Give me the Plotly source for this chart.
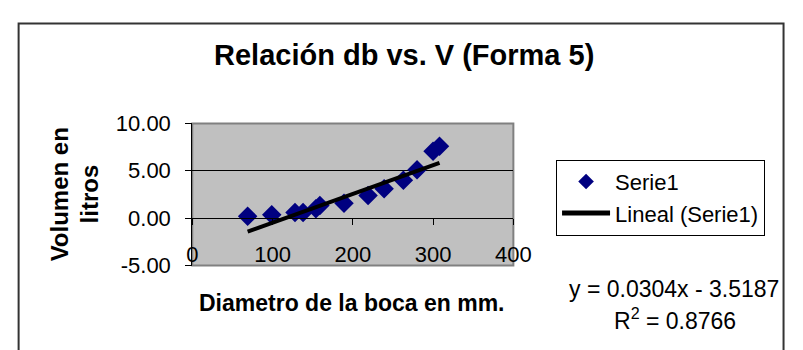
import plotly.graph_objects as go

# Diámetro de la boca (mm) y volumen (litros), forma 5
diametro_mm = [69, 99, 128, 138, 154, 159, 189, 219, 239, 263, 280, 300, 308]
volumen_l = [0.20, 0.36, 0.59, 0.59, 1.00, 1.34, 1.57, 2.40, 3.10, 4.00, 5.10, 7.06, 7.60]

# Línea de tendencia lineal (valores de la ecuación mostrada)
pendiente = 0.0304
intercepto = -3.5187
r_cuadrado = 0.8766

x_ticks = [0, 100, 200, 300, 400]
y_ticks = [-5, 0, 5, 10]
y_ticktext = ["-5.00", "0.00", "5.00", "10.00"]

W, H = 803, 350
FONT = "Liberation Sans, Arial, sans-serif"

def px_x(v):
    return v / W

def px_y(v):
    return 1 - v / H

x_tend = [min(diametro_mm), max(diametro_mm)]
y_tend = [pendiente * v + intercepto for v in x_tend]

fig = go.Figure()
fig.add_trace(go.Scatter(
    x=diametro_mm, y=volumen_l, mode="markers", name="Serie1",
    marker=dict(symbol="diamond", size=15, color="#000080",
                line=dict(width=0)),
))
fig.add_trace(go.Scatter(
    x=x_tend, y=y_tend, mode="lines", name="Lineal (Serie1)",
    line=dict(color="black", width=4),
))

plot_l, plot_r, plot_t, plot_b = 192, 523, 120, 273
# y = 0 en píxeles, donde cruza el eje x
y0_px = plot_t + (10 - 0) / 15 * (plot_b - plot_t)

fig.update_layout(
    width=W, height=H,
    margin=dict(l=0, r=0, t=0, b=0),
    paper_bgcolor="white",
    plot_bgcolor="#C0C0C0",
    font=dict(family=FONT, size=22, color="black"),
    showlegend=True,
    xaxis=dict(
        domain=[px_x(plot_l), px_x(plot_r)],
        range=[0, 400], tickvals=x_ticks, ticktext=[str(v) for v in x_ticks],
        anchor="free", position=px_y(y0_px),
        showline=True, linecolor="black", linewidth=1,
        ticks="outside", ticklen=6, tickcolor="black",
        showgrid=False, zeroline=False,
        ticklabelstandoff=10,
        tickfont=dict(size=22),
    ),
    yaxis=dict(
        domain=[px_y(plot_b), px_y(plot_t)],
        range=[-5, 10], tickvals=y_ticks, ticktext=y_ticktext,
        showline=True, linecolor="black", linewidth=1,
        ticks="outside", ticklen=6, tickcolor="black",
        showgrid=True, gridcolor="black", gridwidth=1,
        zeroline=False,
        ticklabelstandoff=10,
        tickfont=dict(size=22),
    ),
    legend=dict(
        x=px_x(567), y=px_y(159), xanchor="left", yanchor="top",
        bgcolor="white", bordercolor="black", borderwidth=1,
        font=dict(size=22), itemsizing="constant", itemwidth=48,
        tracegroupgap=0,
    ),
    shapes=[
        # borde del área de trazado
        dict(type="rect", xref="paper", yref="paper",
             x0=px_x(plot_l), x1=px_x(plot_r), y0=px_y(plot_b), y1=px_y(plot_t),
             line=dict(color="#808080", width=2), layer="below"),
        # borde exterior del gráfico
        dict(type="rect", xref="paper", yref="paper",
             x0=px_x(13), x1=px_x(801.5), y0=-0.05, y1=px_y(12.5),
             line=dict(color="#333333", width=2)),
    ],
    annotations=[
        dict(text="<b>Relación db vs. V (Forma 5)</b>", xref="paper", yref="paper",
             x=px_x(410), y=px_y(46), xanchor="center", yanchor="middle",
             showarrow=False, font=dict(size=29)),
        dict(text="<b>Diametro de la boca en mm.</b>", xref="paper", yref="paper",
             x=px_x(356), y=px_y(313), xanchor="center", yanchor="middle",
             showarrow=False, font=dict(size=23)),
        dict(text="<b>Volumen en</b>", xref="paper", yref="paper",
             x=px_x(55), y=px_y(196), xanchor="center", yanchor="middle",
             textangle=-90, showarrow=False, font=dict(size=24)),
        dict(text="<b>litros</b>", xref="paper", yref="paper",
             x=px_x(86), y=px_y(196), xanchor="center", yanchor="middle",
             textangle=-90, showarrow=False, font=dict(size=24)),
        dict(text=f"y = {pendiente:.4f}x - {abs(intercepto):.4f}",
             xref="paper", yref="paper",
             x=px_x(689), y=px_y(298), xanchor="center", yanchor="middle",
             showarrow=False, font=dict(size=23)),
        dict(text=f"R<sup>2</sup> = {r_cuadrado:.4f}",
             xref="paper", yref="paper",
             x=px_x(690), y=px_y(331), xanchor="center", yanchor="middle",
             showarrow=False, font=dict(size=23)),
    ],
)

# página sin márgenes ni barras de desplazamiento
fig.write_html(
    "out.html",
    post_script="document.body.style.margin='0';document.body.style.overflow='hidden';",
)
